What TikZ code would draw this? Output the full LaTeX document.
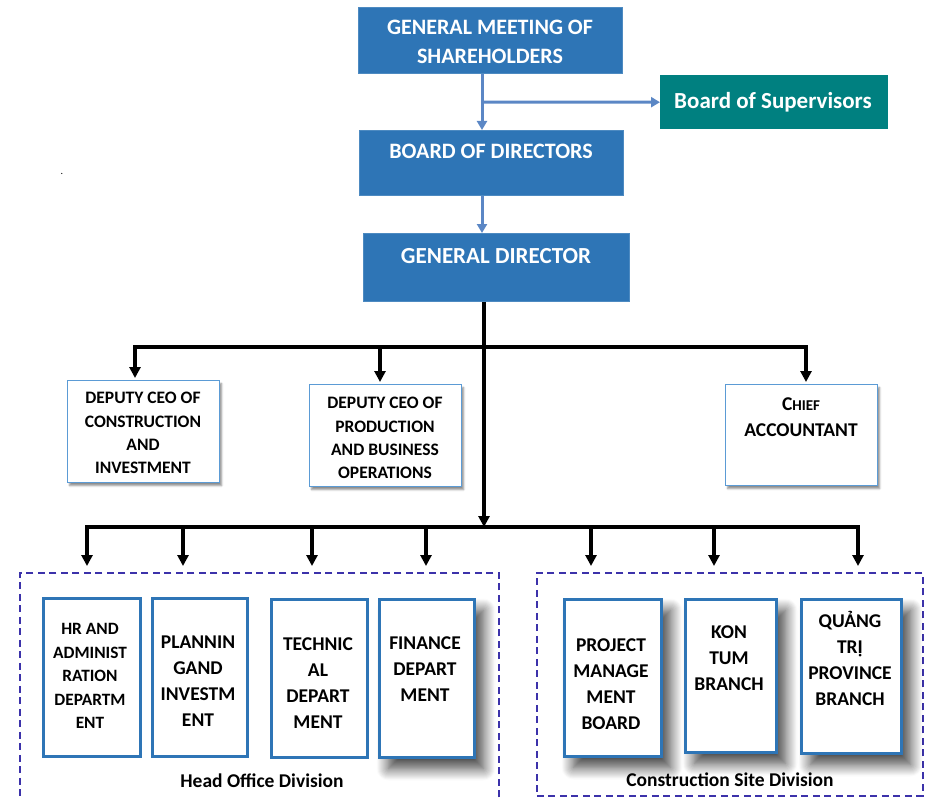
\documentclass[tikz,border=0pt]{standalone}
\usepackage{fontspec}
\setmainfont{Carlito}
\usetikzlibrary{arrows.meta,shadows,shadows.blur}
\definecolor{topblue}{RGB}{46,117,182}
\definecolor{teal2}{RGB}{0,128,128}
\definecolor{arrblue}{RGB}{91,135,197}
\definecolor{dashc}{RGB}{60,50,170}
\definecolor{thinb}{RGB}{91,155,213}
\tikzset{
  topbox/.style={draw=topblue!85!white,line width=0.8pt,fill=topblue,anchor=north west,inner sep=0pt},
  toptext/.style={text=white,font=\bfseries\fontsize{22}{29}\selectfont,align=center},
  supbox/.style={fill=teal2,anchor=north west,inner sep=0pt},
  depbox/.style={draw=thinb,line width=1.2pt,fill=white,anchor=north west,inner sep=0pt,
    blur shadow={shadow xshift=2pt,shadow yshift=-3pt,shadow blur steps=4,shadow opacity=45}},
  deptext/.style={font=\bfseries\fontsize{17.5}{23.3}\selectfont,align=center},
  dptbox/.style={draw=topblue,line width=3pt,fill=white,anchor=north west,inner sep=0pt},
  shad/.style={blur shadow={shadow xshift=9pt,shadow yshift=-11pt,shadow blur steps=12,shadow opacity=75,shadow blur radius=12pt}},
  dpttext/.style={font=\bfseries\fontsize{19.5}{26}\selectfont,align=center},
  grpbox/.style={draw=dashc,line width=1.8pt,dash pattern=on 7pt off 4.5pt,anchor=north west,inner sep=0pt},
  grptext/.style={font=\bfseries\fontsize{19.5}{22}\selectfont},
  barrow/.style={draw=arrblue,line width=3pt,-{Triangle[width=10pt,length=9pt]}},
  bline/.style={draw=arrblue,line width=3pt},
  karrow/.style={draw=black,line width=3.5pt,-{Triangle[width=11pt,length=11pt]}},
  kline/.style={draw=black,line width=3.5pt},
}
\begin{document}
\begin{tikzpicture}[x=1pt,y=-1pt]
\useasboundingbox (0,0) rectangle (928,797);
% top boxes
\node[topbox,minimum width=264pt,minimum height=66pt] (gms) at (358,7) {};
\node[toptext] (gmst) at (490,42) {GENERAL MEETING OF\\SHAREHOLDERS};
\node[supbox,minimum width=228pt,minimum height=54pt] (sup) at (660,75) {};
\node[text=white,font=\bfseries\fontsize{23}{26}\selectfont] (supt) at (773,102) {Board of Supervisors};
\node[topbox,minimum width=264pt,minimum height=65pt] (bod) at (359,130) {};
\node[toptext] (bodt) at (491,151) {BOARD OF DIRECTORS};
\node[topbox,minimum width=266pt,minimum height=68pt] (gd) at (363,233) {};
\node[toptext,font=\bfseries\fontsize{23}{29}\selectfont] (gdt) at (496,256) {GENERAL DIRECTOR};
\node[font=\fontsize{10}{12}\selectfont] (dot) at (62,174) {.};
% blue connectors
\coordinate (split) at (482,102);
\draw[bline] (gms.south -| split) -- (split);
\draw[barrow] (split) -- (bod.north -| split);
\draw[barrow] (split) -- (sup.west);
\draw[barrow] (bod.south -| split) -- (gd.north -| split);
% deputies
\node[depbox,minimum width=152pt,minimum height=102pt] (dep1) at (67,380) {};
\node[deptext] (dep1t) at (143,433) {DEPUTY CEO OF\\CONSTRUCTION\\AND\\INVESTMENT};
\node[depbox,minimum width=152pt,minimum height=102pt] (dep2) at (309,384) {};
\begin{scope}
\clip (309,384) rectangle (461,480);
\node[deptext] (dep2t) at (385,438) {DEPUTY CEO OF\\PRODUCTION\\AND BUSINESS\\OPERATIONS};
\end{scope}
\node[depbox,minimum width=152pt,minimum height=101pt] (chief) at (725,384) {};
\node[dpttext] (chieft) at (801,417) {C{\fontsize{15}{26}\selectfont HIEF}\\ACCOUNTANT};
% black connectors upper
\coordinate (busA) at (484,347);
\coordinate (busB) at (484,527);
\draw[kline] (gd.south -| busA) -- (busA);
\draw[karrow] (busA) -- (busB);
\draw[karrow] (busA) -| (135,378) coordinate (a1);
\draw[karrow] (380,347) coordinate (j2) -- (380,382) coordinate (a2);
\draw[karrow] (busA) -| (806,382) coordinate (a3);
% groups
\node[grpbox,minimum width=479pt,minimum height=240pt] (ho) at (19,572) {};
\node[grpbox,minimum width=386pt,minimum height=223pt] (cs) at (536,572) {};
\node[grptext] (hot) at (262,781) {Head Office Division};
\node[grptext] (cst) at (730,780) {Construction Site Division};
% lower bus
\coordinate (t1) at (87,566);
\coordinate (t2) at (183,566);
\coordinate (t3) at (312,566);
\coordinate (t4) at (426,566);
\coordinate (t5) at (591,566);
\coordinate (t6) at (714,566);
\coordinate (t7) at (858,566);
\draw[karrow] (busB) -| (t1);
\draw[karrow] (t2 |- busB) -- (t2);
\draw[karrow] (t3 |- busB) -- (t3);
\draw[karrow] (t4 |- busB) -- (t4);
\draw[karrow] (t5 |- busB) -- (t5);
\draw[karrow] (t6 |- busB) -- (t6);
\draw[karrow] (busB) -| (t7);
% departments
\node[dptbox,minimum width=97pt,minimum height=158pt] (hr) at (42,597) {};
\node[dpttext,font=\bfseries\fontsize{17.3}{23.5}\selectfont] (hrt) at (90,676) {HR AND\\ADMINIST\\RATION\\DEPARTM\\ENT};
\node[dptbox,minimum width=95pt,minimum height=158pt] (pl) at (151,597) {};
\node[dpttext] (plt) at (198,681) {PLANNIN\\GAND\\INVESTM\\ENT};
\node[dptbox,minimum width=96pt,minimum height=158pt] (te) at (270,598) {};
\node[dpttext] (tet) at (318,683) {TECHNIC\\AL\\DEPART\\MENT};
\node[dptbox,shad,minimum width=95pt,minimum height=158pt] (fi) at (378,598) {};
\node[dpttext] (fit) at (425,669) {FINANCE\\DEPART\\MENT};
\node[dptbox,shad,minimum width=97pt,minimum height=157pt] (pm) at (563,598) {};
\node[dpttext] (pmt) at (611,684) {PROJECT\\MANAGE\\MENT\\BOARD};
\node[dptbox,shad,minimum width=91pt,minimum height=153pt] (kt) at (684,598) {};
\node[dpttext] (ktt) at (729,658) {KON\\TUM\\BRANCH};
\node[dptbox,shad,minimum width=100pt,minimum height=154pt] (qt) at (800,598) {};
\node[dpttext] (qtt) at (850,658) {QUẢNG\\TRỊ\\PROVINCE\\BRANCH};
\end{tikzpicture}
\end{document}
